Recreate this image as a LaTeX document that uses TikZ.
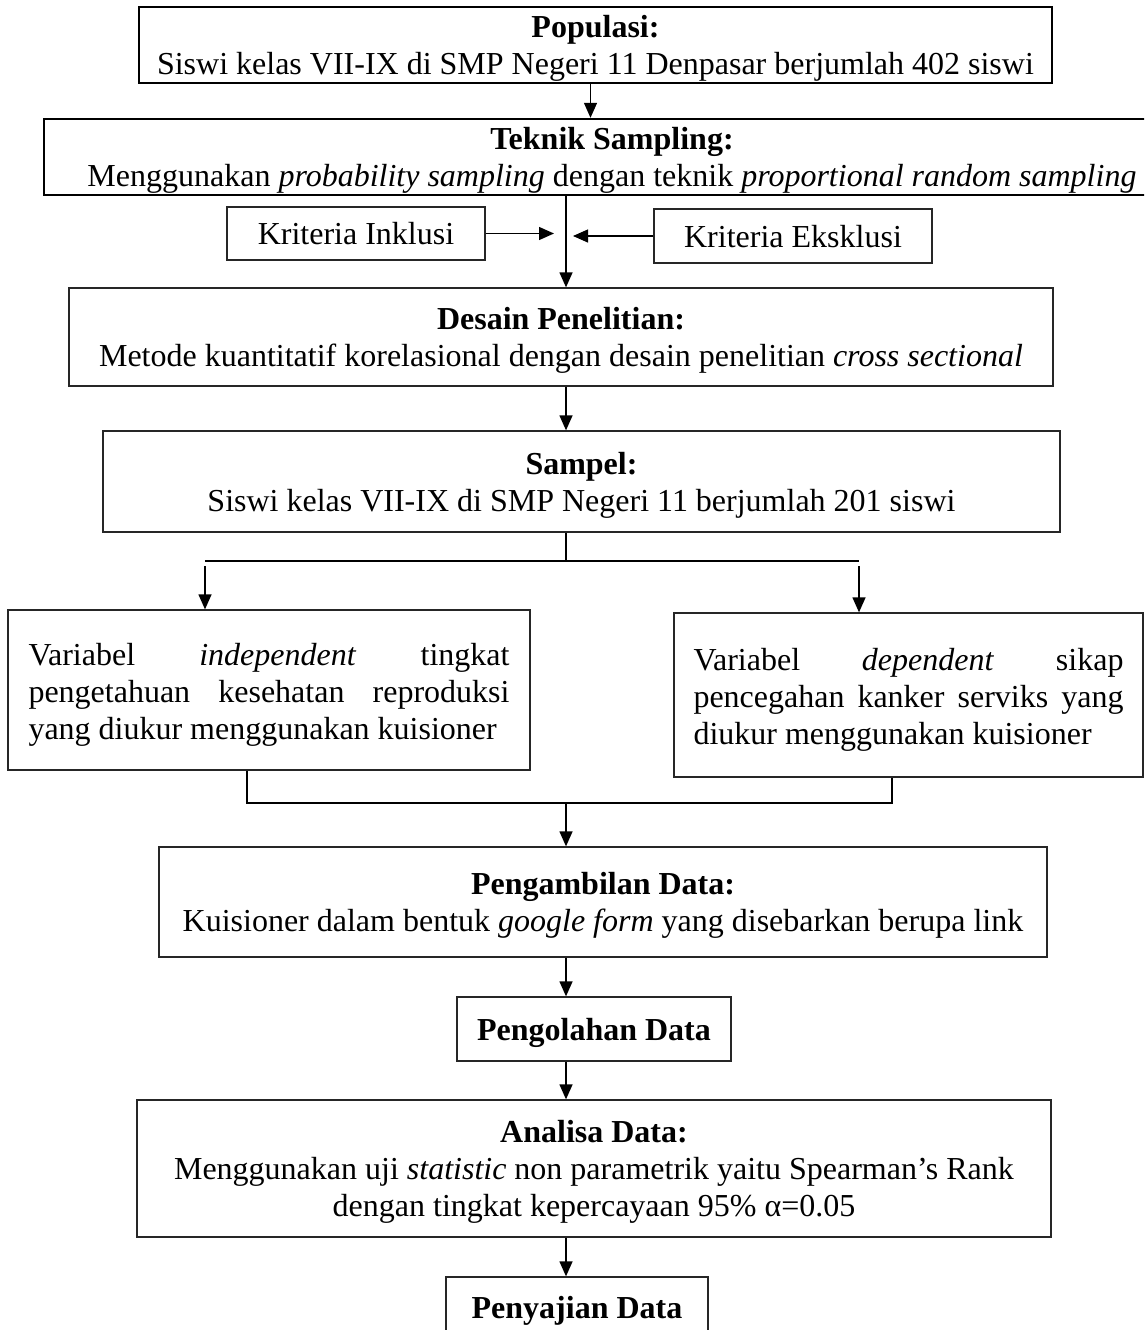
\documentclass[tikz,border=0pt]{standalone}
\usepackage{fontspec}
\setmainfont{Liberation Serif}
\usetikzlibrary{arrows.meta}

\begin{document}
\begin{tikzpicture}[x=1pt,y=1pt,yscale=-1,xscale=1,
  box/.style={draw=black!85,line width=1.3pt,rectangle,inner sep=0pt,align=center,text depth=-2pt,font=\fontsize{32pt}{37pt}\selectfont},
  thickbox/.style={box,draw=black,line width=2.4pt},
  parbox/.style={box,align=justify,text height=22pt,text depth=72pt},
  ln/.style={line width=1.3pt},
  arr/.style={ln,-{Triangle[length=15pt,width=13pt]}}]
\useasboundingbox (0,0) rectangle (1144,1330);
\clip (0,0) rectangle (1144,1330);
\node[thickbox,minimum width=913pt,minimum height=76pt] (pop) at (595.5,45) {\textbf{Populasi:}\\Siswi kelas VII-IX di SMP Negeri 11 Denpasar berjumlah 402 siswi};
\node[thickbox,minimum width=1136pt,minimum height=76pt] (teknik) at (612,157) {\textbf{Teknik Sampling:}\\Menggunakan \textit{probability sampling} dengan teknik \textit{proportional random sampling}};
\node[box,text depth=-6pt,minimum width=258pt,minimum height=53pt] (inklusi) at (356,233.5) {Kriteria Inklusi};
\node[box,text depth=-6pt,minimum width=278pt,minimum height=54pt] (eksklusi) at (793,236) {Kriteria Eksklusi};
\node[box,minimum width=984pt,minimum height=98pt] (desain) at (561,337) {\textbf{Desain Penelitian:}\\Metode kuantitatif korelasional dengan desain penelitian \textit{cross sectional}};
\node[box,minimum width=957pt,minimum height=101pt] (sampel) at (581.5,481.5) {\textbf{Sampel:}\\Siswi kelas VII-IX di SMP Negeri 11 berjumlah 201 siswi};
\node[parbox,text width=481pt,minimum width=522pt,minimum height=160pt] (indep) at (269,690) {\sloppy Variabel \textit{independent} tingkat\linebreak pengetahuan kesehatan reproduksi\linebreak yang diukur menggunakan kuisioner};
\node[parbox,text width=430pt,minimum width=469pt,minimum height=164pt] (dep) at (908.5,695) {\sloppy Variabel \textit{dependent} sikap\linebreak pencegahan kanker serviks yang\linebreak diukur menggunakan kuisioner};
\node[box,minimum width=888pt,minimum height=110pt] (ambil) at (603,902) {\textbf{Pengambilan Data:}\\Kuisioner dalam bentuk \textit{google form} yang disebarkan berupa link};
\node[box,minimum width=274pt,minimum height=64pt] (olah) at (594,1029) {\textbf{Pengolahan Data}};
\node[box,minimum width=914pt,minimum height=137pt] (analisa) at (594,1168.5) {\textbf{Analisa Data:}\\Menggunakan uji \textit{statistic} non parametrik yaitu Spearman’s Rank\\dengan tingkat kepercayaan 95\% α=0.05};
\node[box,minimum width=262pt,minimum height=60pt] (saji) at (577,1307) {\textbf{Penyajian Data}};
\coordinate (spine) at (566,232);
\coordinate (splitL) at (205,561);
\coordinate (splitR) at (859,561);
\coordinate (joinL) at (247,803);
\coordinate (joinR) at (892,803);
\draw[arr] ([xshift=-5pt]pop.south) -- ([xshift=-5pt]pop.south |- teknik.north);
\draw[arr] (spine |- teknik.south) -- (spine |- desain.north);
\draw[arr,shorten >=12pt] (inklusi.east) -- (inklusi.east -| spine);
\draw[arr,shorten >=7pt] (eksklusi.west) -- (eksklusi.west -| spine);
\draw[arr] (spine |- desain.south) -- (spine |- sampel.north);
\draw[ln] (spine |- sampel.south) -- (spine |- splitL);
\draw[ln] (splitL) -- (splitR);
\draw[arr,shorten <=5pt] (splitL) -- (splitL |- indep.north);
\draw[arr,shorten <=5pt] (splitR) -- (splitR |- dep.north);
\draw[ln] (joinL |- indep.south) -- (joinL) -- (joinR) -- (joinR |- dep.south);
\draw[arr] (spine |- joinL) -- (spine |- ambil.north);
\draw[arr] (spine |- ambil.south) -- (spine |- olah.north);
\draw[arr] (spine |- olah.south) -- (spine |- analisa.north);
\draw[arr] (spine |- analisa.south) -- (spine |- saji.north);
\end{tikzpicture}
\end{document}
